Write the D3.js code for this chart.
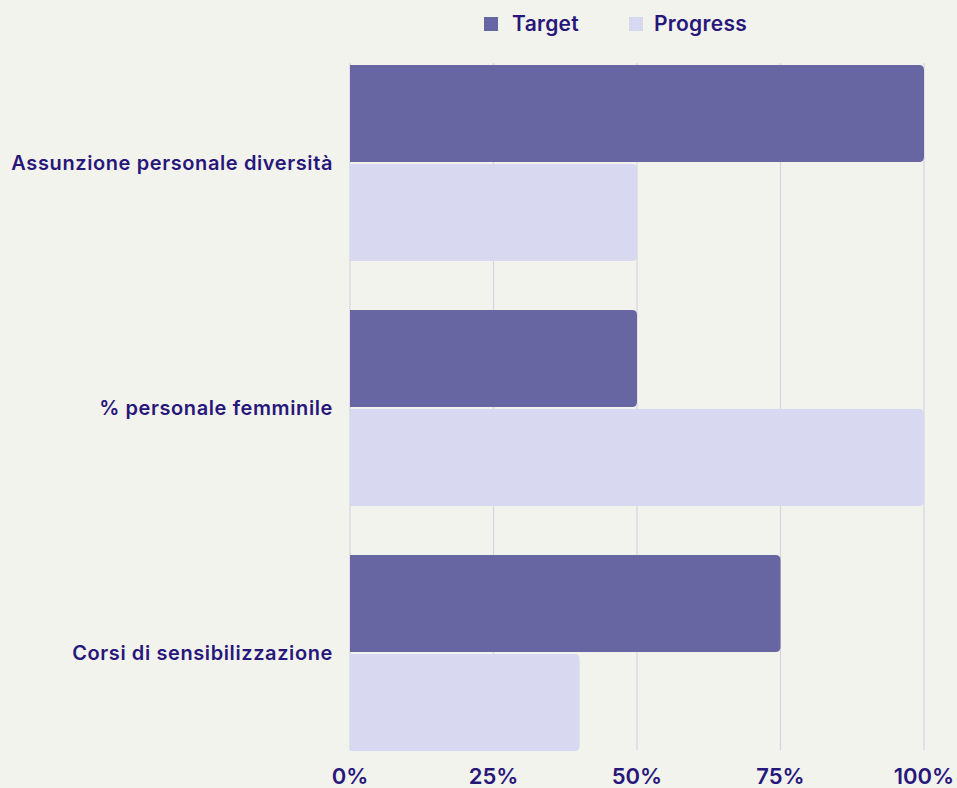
<!DOCTYPE html>
<html>
<head>
<meta charset="utf-8">
<script src="https://cdn.jsdelivr.net/npm/d3@7"></script>
<style>
  body { margin: 0; background: #f3f3ee; }
  text { font-family: Inter, "Noto Sans", sans-serif; font-weight: 600; fill: #28177a; }
</style>
</head>
<body>
<div id="chart"></div>
<script>
// chart data
var categories = ["Assunzione personale diversità", "% personale femminile", "Corsi di sensibilizzazione"];
var seriesNames = ["Target", "Progress"];
var targetValues = [100, 50, 75];
var progressValues = [50, 100, 40];
var tickValues = [0, 25, 50, 75, 100];

var colors = ["#6866a2", "#d8d8f1"];

var width = 957, height = 788;
var left = 350, right = 924;

var svg = d3.select("#chart").append("svg")
    .attr("width", width)
    .attr("height", height);

svg.append("rect").attr("width", width).attr("height", height).attr("fill", "#f3f3ee");

var x = d3.scaleLinear().domain([0, 100]).range([left, right]);

var y = d3.scaleBand()
    .domain(categories)
    .range([40.5, 775.5])
    .paddingInner(0.2)
    .paddingOuter(0.1);

var ySub = d3.scaleBand()
    .domain(seriesNames)
    .range([0, y.bandwidth()])
    .paddingInner(0.02);

// grid lines
svg.append("g")
    .selectAll("line")
    .data(tickValues)
    .enter().append("line")
    .attr("x1", function(d) { return x(d); })
    .attr("x2", function(d) { return x(d); })
    .attr("y1", 63)
    .attr("y2", 750)
    .attr("stroke", "#d6d4de")
    .attr("stroke-width", 1.2);

// bars
var rows = categories.map(function(c, i) {
    return [
        { cat: c, key: "Target", value: targetValues[i] },
        { cat: c, key: "Progress", value: progressValues[i] }
    ];
});

function barPath(d) {
    var x0 = x(0), x1 = x(d.value);
    var y0 = y(d.cat) + ySub(d.key), h = ySub.bandwidth();
    var r = 5;
    return "M" + x0 + "," + y0 +
        "H" + (x1 - r) +
        "Q" + x1 + "," + y0 + " " + x1 + "," + (y0 + r) +
        "V" + (y0 + h - r) +
        "Q" + x1 + "," + (y0 + h) + " " + (x1 - r) + "," + (y0 + h) +
        "H" + x0 + "Z";
}

svg.append("g")
    .selectAll("g")
    .data(rows)
    .enter().append("g")
    .selectAll("path")
    .data(function(d) { return d; })
    .enter().append("path")
    .attr("d", barPath)
    .attr("fill", function(d) { return d.key === "Target" ? colors[0] : colors[1]; });

// category labels
svg.append("g")
    .selectAll("text")
    .data(categories)
    .enter().append("text")
    .attr("x", 333)
    .attr("y", function(d) { return y(d) + y.bandwidth() / 2; })
    .attr("dy", "0.35em")
    .attr("text-anchor", "end")
    .style("font-size", "20px")
    .style("letter-spacing", "0.6px")
    .text(function(d) { return d; });

// x tick labels
svg.append("g")
    .selectAll("text")
    .data(tickValues)
    .enter().append("text")
    .attr("x", function(d) { return x(d); })
    .attr("y", 784)
    .attr("text-anchor", "middle")
    .style("font-size", "22px")
    .text(function(d) { return d + "%"; });

// legend
var legend = svg.append("g")
    .selectAll("g")
    .data(seriesNames)
    .enter().append("g")
    .attr("transform", function(d, i) { return "translate(" + (i === 0 ? 484 : 629) + ",0)"; });

legend.append("rect")
    .attr("y", 17)
    .attr("width", 14)
    .attr("height", 14)
    .attr("fill", function(d, i) { return colors[i]; });

legend.append("text")
    .attr("x", function(d, i) { return i === 0 ? 28 : 25; })
    .attr("y", 24)
    .attr("dy", "0.35em")
    .style("font-size", "21px")
    .style("letter-spacing", "0.3px")
    .text(function(d) { return d; });
</script>
</body>
</html>
